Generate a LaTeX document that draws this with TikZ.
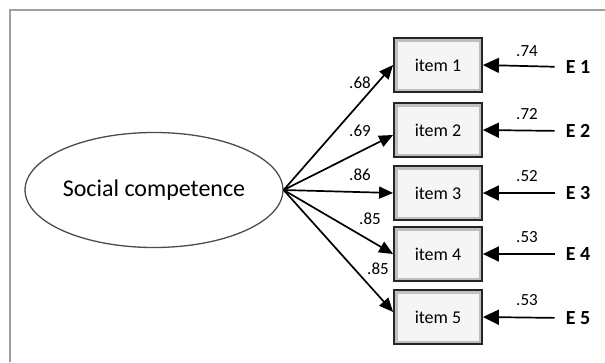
\documentclass[tikz,border=0pt]{standalone}
\usepackage{fontspec}
\setmainfont{Carlito}
\usetikzlibrary{shapes.geometric,arrows.meta}
\begin{document}
\begin{tikzpicture}[x=1pt,y=-1pt,
  itembox/.style={draw=black!85,line width=1.8pt,fill=gray!50,minimum width=88pt,minimum height=54pt,inner sep=0pt,
    font=\fontsize{18}{21}\selectfont,
    path picture={\fill[gray!8] ([shift={(3.5pt,-3.5pt)}]path picture bounding box.north west) rectangle ([shift={(-3.5pt,3.5pt)}]path picture bounding box.south east);}},
  errlab/.style={font=\bfseries\fontsize{20}{23}\selectfont,inner sep=1pt},
  coef/.style={font=\fontsize{17}{20}\selectfont,inner sep=0pt},
  conn/.style={line width=1.7pt,-{Triangle[length=14pt,width=12pt]}},
  errarr/.style={line width=1.7pt,-{Triangle[length=16pt,width=15pt]},shorten <=10pt}]
\useasboundingbox (0,0) rectangle (605,362);
% frame
\draw[gray!75,line width=1.6pt] (10,362) -- (10,10) -- (605,10);
% latent
\node[ellipse,draw=gray!60!black,line width=1.3pt,fill=white,minimum width=252pt,minimum height=115pt,inner sep=0pt,
  font=\fontsize{24}{28}\selectfont] (s) at (154,190) {Social competence};
% items
\node[itembox] (i1) at (438,65) {item 1};
\node[itembox] (i2) at (438,130) {item 2};
\node[itembox] (i3) at (438,193) {item 3};
\node[itembox] (i4) at (438,254) {item 4};
\node[itembox] (i5) at (438,317) {item 5};
% errors
\node[errlab] (e1) at (578,67) {E 1};
\node[errlab] (e2) at (578,131) {E 2};
\node[errlab] (e3) at (578,193) {E 3};
\node[errlab] (e4) at (578,254) {E 4};
\node[errlab] (e5) at (578,318) {E 5};
\foreach \k in {1,...,5} {\draw[errarr] (e\k.west) -- (i\k.east);}
% loadings
\draw[conn] (s.east) -- (i1.west);
\draw[conn] (s.east) -- ([yshift=-5pt]i2.west);
\draw[conn] (s.east) -- (i3.west);
\draw[conn] (s.east) -- (i4.west);
\draw[conn] (s.east) -- ([yshift=5pt]i5.west);
\node[coef] (l1) at (360,83) {.68};
\node[coef] (l2) at (360,131) {.69};
\node[coef] (l3) at (360,175) {.86};
\node[coef] (l4) at (370,219) {.85};
\node[coef] (l5) at (378,269) {.85};
\node[coef] (r1) at (527,51) {.74};
\node[coef] (r2) at (527,114) {.72};
\node[coef] (r3) at (527,176) {.52};
\node[coef] (r4) at (527,237) {.53};
\node[coef] (r5) at (527,300) {.53};
\end{tikzpicture}
\end{document}
